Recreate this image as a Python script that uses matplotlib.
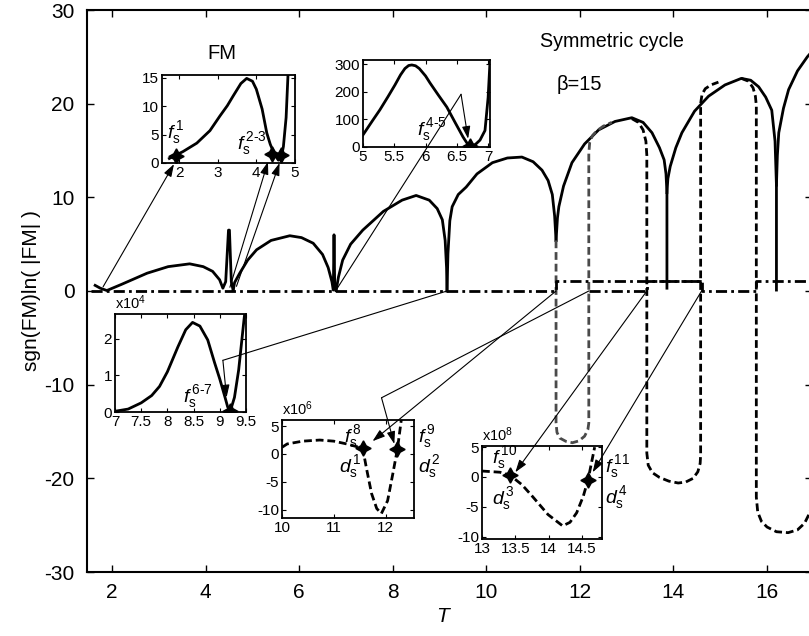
import numpy as np
import matplotlib
matplotlib.use('Agg')
from matplotlib import pyplot as plt
from matplotlib.patches import ConnectionPatch

plt.rcParams['font.family'] = ['Liberation Sans', 'DejaVu Sans']
plt.rcParams['mathtext.fontset'] = 'custom'
plt.rcParams['mathtext.rm'] = 'Liberation Sans'
plt.rcParams['mathtext.it'] = 'Liberation Sans:italic'
plt.rcParams['mathtext.sf'] = 'Liberation Sans'
plt.rcParams['axes.unicode_minus'] = False

# ---- main plot data: sgn(FM)ln(|FM|) vs T ----
arch1_T = [1.64, 1.75, 1.89, 2.2, 2.75, 3.2, 3.66, 3.95, 4.15, 4.3, 4.37, 4.43, 4.49, 4.51, 4.55, 4.59]
arch1_V = [0.6, 0.3, 0.05, 0.7, 1.9, 2.6, 2.9, 2.6, 2.1, 1.2, 0.3, 1.0, 6.5, 6.5, 1.0, 0.05]
arch2_T = [4.59, 4.62, 4.73, 4.9, 5.09, 5.4, 5.8, 6.05, 6.3, 6.5, 6.62, 6.7, 6.73, 6.745, 6.76, 6.79]
arch2_V = [0.05, 0.9, 1.9, 3.3, 4.4, 5.4, 5.9, 5.7, 5.1, 3.9, 2.5, 1.0, 0.1, 6.0, 0.5, 0.05]
arch3_T = [6.79, 6.84, 6.93, 7.1, 7.36, 7.8, 8.2, 8.5, 8.78, 8.95, 9.06, 9.12, 9.15, 9.16]
arch3_V = [0.05, 1.5, 3.3, 5.0, 6.5, 8.5, 9.7, 10.2, 9.7, 8.8, 7.6, 5.4, 2.5, 0.0]
arch4_T = [9.16, 9.18, 9.22, 9.27, 9.4, 9.57, 9.8, 10.13, 10.45, 10.76, 11.0, 11.19, 11.32, 11.41, 11.46, 11.49]
arch4_V = [0.0, 4.0, 7.5, 9.0, 10.3, 11.1, 12.5, 13.7, 14.2, 14.3, 13.8, 12.9, 11.8, 10.3, 8.0, 5.4]
arch5_T = [11.49, 11.52, 11.55, 11.65, 11.83, 12.1, 12.4, 12.75, 13.11, 13.35, 13.54, 13.7, 13.8, 13.84, 13.86, 13.86]
arch5_V = [5.4, 7.8, 9.0, 11.2, 13.7, 15.7, 17.2, 18.1, 18.5, 18.0, 16.9, 15.3, 14.0, 12.5, 10.5, 0.3]
arch6_T = [13.86, 13.88, 13.93, 14.05, 14.18, 14.45, 14.75, 15.1, 15.45, 15.65, 15.82, 15.97, 16.1, 16.17, 16.2, 16.2]
arch6_V = [10.5, 12.0, 13.3, 15.3, 16.9, 19.2, 20.8, 22.0, 22.7, 22.5, 21.8, 20.7, 19.3, 16.0, 11.3, 0.1]
arch7_T = [16.2, 16.22, 16.25, 16.35, 16.46, 16.65, 16.86, 17.0]
arch7_V = [11.3, 14.5, 16.9, 19.5, 21.5, 23.5, 25.0, 25.8]

u1_T = [11.49, 11.49, 11.51, 11.57, 11.7, 11.84, 11.98, 12.1, 12.17, 12.19, 12.19, 12.21, 12.27, 12.36, 12.5, 12.68]
u1_V = [5.4, -14.1, -15.1, -15.7, -16.05, -16.2, -16.0, -15.5, -14.8, -14.1, 14.7, 15.9, 16.6, 17.1, 17.6, 18.0]
u2_T = [13.11, 13.25, 13.35, 13.41, 13.43, 13.43, 13.46, 13.55, 13.7, 13.9, 14.1, 14.26, 14.42, 14.52, 14.57, 14.58,
        14.58, 14.61, 14.68, 14.8, 14.96]
u2_V = [18.4, 18.0, 17.2, 16.0, 14.5, -17.3, -18.6, -19.4, -19.9, -20.3, -20.5, -20.4, -20.0, -19.3, -18.4, -17.5,
        20.0, 21.0, 21.6, 22.0, 22.3]
u3_T = [15.45, 15.6, 15.7, 15.75, 15.77, 15.77, 15.8, 15.88, 16.0, 16.2, 16.45, 16.65, 16.8, 16.9, 17.0]
u3_V = [22.7, 22.4, 21.7, 20.8, 19.8, -22.0, -23.6, -24.6, -25.2, -25.7, -25.8, -25.5, -24.8, -23.8, -22.0]

step1_T = [1.55, 11.49, 11.49, 14.6, 14.6, 15.77, 15.77, 17.0]
step1_V = [0, 0, 1.05, 1.05, 0, 0, 1.05, 1.05]
step2_T = [12.19, 13.43, 13.43, 14.6]
step2_V = [0, 0, 1.05, 1.05]

# ---- inset data ----
in1_T = [1.75, 1.83, 2.1, 2.46, 2.8, 3.06, 3.25, 3.4, 3.6, 3.75, 3.9, 4.0, 4.15, 4.27, 4.36, 4.44, 4.52, 4.57,
         4.64, 4.7, 4.77, 4.82]
in1_V = [0.8, 1.1, 2.0, 3.5, 5.7, 8.3, 10.1, 11.8, 14.0, 14.9, 14.4, 13.0, 9.5, 5.3, 3.3, 2.0, 1.0, 0.5,
         0.8, 2.9, 8.0, 15.7]
in1_stars_T = [1.93, 4.4, 4.65]
in1_stars_V = [1.3, 1.6, 1.4]

in2_T = [5.0, 5.15, 5.27, 5.4, 5.51, 5.6, 5.67, 5.73, 5.78, 5.84, 5.9, 6.0, 6.07, 6.2, 6.34, 6.47, 6.6, 6.66,
         6.71, 6.76, 6.8, 6.87, 6.95, 7.0, 7.03]
in2_V = [44, 95, 135, 183, 225, 262, 285, 296, 298, 295, 285, 258, 233, 190, 145, 90, 36, 15,
         5, 5, 10, 25, 60, 180, 310]
in2_stars_T = [6.71]
in2_stars_V = [5]

in3_T = [7.0, 7.25, 7.5, 7.7, 7.85, 8.0, 8.2, 8.35, 8.48, 8.62, 8.77, 8.9, 9.0, 9.1, 9.15, 9.2, 9.28, 9.36,
         9.46, 9.5]
in3_V = [0.02, 0.08, 0.25, 0.45, 0.7, 1.1, 1.78, 2.25, 2.45, 2.35, 1.97, 1.35, 0.9, 0.4, 0.14, 0.02, 0.4, 1.15,
         2.5, 3.0]
in3_stars_T = [9.2]
in3_stars_V = [0.02]

in4_T = [10.0, 10.1, 10.4, 10.73, 11.0, 11.25, 11.45, 11.56, 11.63, 11.73, 11.83, 11.92, 12.04, 12.14, 12.23, 12.31]
in4_V = [1.2, 1.8, 2.3, 2.5, 2.3, 1.8, 1.3, 1.0, -2.5, -7.1, -9.8, -10.7, -8.4, -3.6, 0.9, 6.5]
in4_stars_T = [11.56, 12.23]
in4_stars_V = [1.0, 0.9]

in5_T = [13.0, 13.27, 13.42, 13.6, 13.76, 13.99, 14.21, 14.32, 14.42, 14.52, 14.59, 14.69]
in5_V = [1.0, 0.8, 0.3, -1.3, -3.3, -6.3, -8.2, -7.6, -6.0, -3.2, -0.5, 5.0]
in5_stars_T = [13.42, 14.59]
in5_stars_V = [0.3, -0.5]

x_ticks = [2, 4, 6, 8, 10, 12, 14, 16]
y_ticks = [-30, -20, -10, 0, 10, 20, 30]

fig = plt.figure(figsize=(8.09, 6.36), dpi=100)
ax = fig.add_axes([87 / 809, 64 / 636, 725 / 809, 562 / 636])

LW = 2.0
DASH = (2.8, 1.4)
DASHDOT = (4.0, 1.5, 1.0, 1.5)

for tt, vv in [(arch1_T, arch1_V), (arch2_T, arch2_V), (arch3_T, arch3_V), (arch4_T, arch4_V),
               (arch5_T, arch5_V), (arch6_T, arch6_V), (arch7_T, arch7_V)]:
    ax.plot(tt, vv, color='k', lw=LW, solid_joinstyle='round')
ax.plot(u1_T, u1_V, color='#4a4a4a', lw=LW, dashes=DASH)
ax.plot(u2_T, u2_V, color='k', lw=LW, dashes=DASH)
ax.plot(u3_T, u3_V, color='k', lw=LW, dashes=DASH)
ax.plot(step1_T, step1_V, color='k', lw=LW, dashes=DASHDOT)
ax.plot(step2_T, step2_V, color='k', lw=LW, dashes=DASHDOT)

ax.set_xlim(1.466, 16.96)
ax.set_ylim(-30, 30)
ax.set_xticks(x_ticks)
ax.set_yticks(y_ticks)
ax.tick_params(direction='in', top=True, right=True, length=5, width=1.0, labelsize=15)
ax.tick_params(axis='x', pad=8)
ax.tick_params(axis='y', pad=9)
for s in ax.spines.values():
    s.set_linewidth(1.5)
ax.set_ylabel('sgn(FM)ln( |FM| )', fontsize=15)
ax.yaxis.set_label_coords(-0.064, 0.5)
ax.set_xlabel('T', fontsize=15, style='italic')
ax.xaxis.set_label_coords(0.49, -0.062)

ax.text(4.35, 25.4, 'FM', fontsize=14.5, ha='center', va='center')
ax.text(12.68, 26.6, 'Symmetric cycle', fontsize=14.2, ha='center', va='center')
ax.text(11.98, 22.0, 'β=15', fontsize=14.5, ha='center', va='center')


def make_inset(rect, xlim, ylim, xticks, yticks, xlabels=None):
    a = fig.add_axes(rect)
    a.set_xlim(*xlim)
    a.set_ylim(*ylim)
    a.set_xticks(xticks)
    a.set_yticks(yticks)
    if xlabels is not None:
        a.set_xticklabels(xlabels)
    a.tick_params(direction='in', top=True, right=True, length=3, width=0.8, labelsize=11, pad=2)
    for s in a.spines.values():
        s.set_linewidth(1.3)
    return a


STAR = dict(marker=(4, 1, 0), color='k', markersize=11, linestyle='none', zorder=5)

ins1 = make_inset([162 / 809, 473 / 636, 133 / 809, 88 / 636], (1.56, 5.0), (0, 15.5),
                  [2, 3, 4, 5], [0, 5, 10, 15])
ins1.plot(in1_T, in1_V, color='k', lw=LW)
ins1.plot(in1_stars_T, in1_stars_V, **STAR)
ins1.text(1.68, 5.3, r'$f_{\mathrm{s}}^{\,\mathrm{1}}$', fontsize=14, va='center')
ins1.text(3.5, 3.4, r'$f_{\mathrm{s}}^{\,\mathrm{2\text{-}3}}$', fontsize=14, va='center')

ins2 = make_inset([363 / 809, 489 / 636, 127 / 809, 87 / 636], (5, 7.03), (0, 316),
                  [5, 5.5, 6, 6.5, 7], [0, 100, 200, 300], ['5', '5.5', '6', '6.5', '7'])
ins2.plot(in2_T, in2_V, color='k', lw=LW)
ins2.plot(in2_stars_T, in2_stars_V, **STAR)
ins2.text(5.87, 62, r'$f_{\mathrm{s}}^{\,\mathrm{4\text{-}5}}$', fontsize=14, va='center')

ins3 = make_inset([115 / 809, 224 / 636, 131 / 809, 98 / 636], (7, 9.5), (0, 2.68),
                  [7, 7.5, 8, 8.5, 9, 9.5], [0, 1, 2], ['7', '7.5', '8', '8.5', '9', '9.5'])
ins3.plot(in3_T, in3_V, color='k', lw=LW)
ins3.plot(in3_stars_T, in3_stars_V, **STAR)
ins3.text(8.3, 0.42, r'$f_{\mathrm{s}}^{\,\mathrm{6\text{-}7}}$', fontsize=14, va='center')
ins3.text(0.0, 1.02, r'x10$^{4}$', fontsize=10.5, transform=ins3.transAxes, va='bottom')

ins4 = make_inset([282 / 809, 118 / 636, 132 / 809, 98 / 636], (10, 12.55), (-11.5, 6.1),
                  [10, 11, 12], [-10, -5, 0, 5])
ins4.plot(in4_T, in4_V, color='k', lw=LW, dashes=DASH)
ins4.plot(in4_stars_T, in4_stars_V, **STAR)
ins4.text(11.2, 3.2, r'$f_{\mathrm{s}}^{\,\mathrm{8}}$', fontsize=14, va='center')
ins4.text(11.1, -2.2, r'$d_{\mathrm{s}}^{\,\mathrm{1}}$', fontsize=14, va='center')
ins4.text(12.62, 3.2, r'$f_{\mathrm{s}}^{\,\mathrm{9}}$', fontsize=14, va='center', clip_on=False)
ins4.text(12.62, -2.2, r'$d_{\mathrm{s}}^{\,\mathrm{2}}$', fontsize=14, va='center', clip_on=False)
ins4.text(0.0, 1.02, r'x10$^{6}$', fontsize=10.5, transform=ins4.transAxes, va='bottom')

ins5 = make_inset([482 / 809, 97 / 636, 120 / 809, 93 / 636], (13, 14.8), (-10.4, 5.2),
                  [13, 13.5, 14, 14.5], [-10, -5, 0, 5], ['13', '13.5', '14', '14.5'])
ins5.plot(in5_T, in5_V, color='k', lw=LW, dashes=DASH)
ins5.plot(in5_stars_T, in5_stars_V, **STAR)
ins5.text(13.15, 3.2, r'$f_{\mathrm{s}}^{\,\mathrm{10}}$', fontsize=14, va='center')
ins5.text(13.15, -3.6, r'$d_{\mathrm{s}}^{\,\mathrm{3}}$', fontsize=14, va='center')
ins5.text(14.85, 1.8, r'$f_{\mathrm{s}}^{\,\mathrm{11}}$', fontsize=14, va='center', clip_on=False)
ins5.text(14.85, -3.4, r'$d_{\mathrm{s}}^{\,\mathrm{4}}$', fontsize=14, va='center', clip_on=False)
ins5.text(0.0, 1.02, r'x10$^{8}$', fontsize=10.5, transform=ins5.transAxes, va='bottom')

# ---- pointer lines from the main curve to the insets ----
ARROW = '-|>,head_length=0.75,head_width=0.25'


def link(p0, p1, inset, via=None):
    start = p0
    if via is not None:
        seg = ConnectionPatch(xyA=p0, coordsA=ax.transData, xyB=via, coordsB=ax.transData,
                              lw=0.8, color='k', zorder=10)
        fig.add_artist(seg)
        start = via
    arr = ConnectionPatch(xyA=start, coordsA=ax.transData, xyB=p1, coordsB=inset.transData,
                          arrowstyle=ARROW, mutation_scale=10, lw=0.8, color='k',
                          shrinkA=0, shrinkB=0, zorder=10)
    fig.add_artist(arr)


link((1.81, 0.45), (1.87, -0.2), ins1)
link((4.52, 0.4), (4.3, 0.2), ins1)
link((4.66, 0.5), (4.6, 0.0), ins1)
link((6.79, 0.1), (6.68, 30), ins2, via=(9.46, 21.0))
link((9.16, 0.0), (9.13, 0.4), ins3, via=(4.37, -7.4))
link((11.49, 0.0), (11.75, 2.3), ins4)
link((12.19, 0.0), (12.17, 1.8), ins4, via=(7.76, -11.4))
link((13.43, 0.0), (13.5, 0.8), ins5)
link((14.6, 0.0), (14.66, 0.8), ins5)

plt.savefig('out.png', dpi=100)
